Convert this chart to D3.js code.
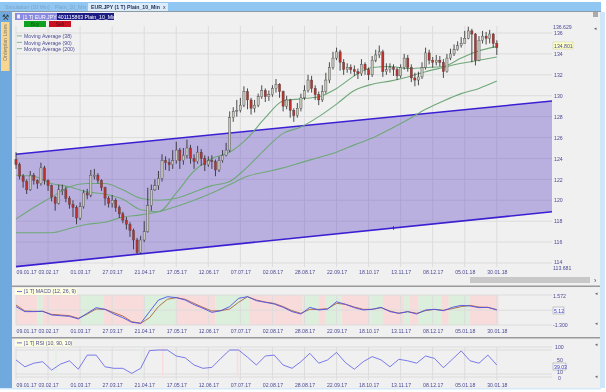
<!DOCTYPE html>
<html>
<head>
<meta charset="utf-8" />
<title>EUR.JPY</title>
<script src="https://cdnjs.cloudflare.com/ajax/libs/d3/7.8.5/d3.min.js"></script>
<style>
  html, body { margin: 0; padding: 0; background: #fff; overflow: hidden; }
  svg { display: block; font-family: "Liberation Sans", Arial, sans-serif; filter: blur(0.4px); }
  .domain { display: none; }
  .tick line { stroke: none; }
  .tick text, .lab { fill: #4b4b96; font-size: 5.2px; }
</style>
</head>
<body>
<svg width="606" height="392"></svg>
<script>
// one candle every 2 bars
var closes = [123.4,122.3,121.8,121.0,122.4,121.9,121.6,123.1,121.9,121.4,
  120.3,119.7,121.0,121.0,120.2,119.6,119.3,118.3,119.4,120.7,
  120.5,122.4,122.4,121.9,121.2,120.2,119.7,120.0,119.3,118.7,
  118.1,117.7,117.1,116.2,115.0,116.2,117.0,119.5,121.0,121.4,
  122.1,123.8,123.6,123.4,123.8,124.8,123.8,124.3,125.0,124.0,
  123.7,124.6,124.0,123.4,123.8,123.7,122.9,123.8,124.3,124.8,
  127.9,128.5,128.6,129.1,130.4,129.6,128.8,129.1,129.9,130.5,
  129.9,130.1,130.7,131.1,130.4,129.0,129.6,128.6,128.1,128.8,
  129.8,130.5,131.5,130.7,130.1,129.6,130.4,131.5,132.7,133.6,
  134.2,133.2,132.5,132.7,132.5,132.3,132.1,133.0,132.5,132.0,
  133.4,133.9,134.2,132.3,132.5,132.7,132.5,131.9,132.7,133.6,
  132.7,131.7,131.5,131.8,132.7,134.1,133.4,133.2,133.4,133.2,
  132.3,133.6,134.0,134.4,134.8,135.0,135.5,136.2,135.9,133.4,
  135.3,135.7,135.5,135.9,135.0,134.6];
var highs = [124.6,123.6,122.5,122.0,122.8,122.6,122.0,123.6,123.3,122.0,
  121.5,120.4,121.5,121.5,121.3,120.4,120.0,119.5,119.8,121.0,
  121.1,122.9,123.0,122.6,122.0,121.3,120.4,120.5,120.2,119.5,
  118.9,118.4,117.9,117.3,116.4,116.6,118.0,121.2,121.5,122.0,
  122.8,124.4,124.2,124.0,124.8,125.6,125.0,125.0,125.8,125.3,
  124.4,125.2,124.9,124.3,124.2,124.3,123.9,124.2,124.8,125.5,
  128.5,128.9,129.6,129.8,130.9,130.7,129.8,129.6,130.2,131.0,
  130.7,130.5,131.0,131.6,131.2,130.5,130.0,129.7,128.8,129.3,
  130.2,131.0,132.0,131.9,131.0,130.4,131.0,132.2,133.2,134.2,
  134.6,134.4,133.5,133.1,133.0,132.9,132.6,133.5,133.2,132.7,
  133.8,134.4,134.8,134.4,133.1,133.1,133.0,132.7,133.0,134.0,
  133.9,133.0,132.2,132.3,133.2,134.6,134.4,133.7,133.9,133.8,
  133.5,134.0,134.5,134.9,135.2,135.6,136.2,136.6,136.4,136.0,
  135.7,136.2,136.1,136.3,136.0,135.3];
var lows = [123.0,122.0,121.2,120.6,120.9,121.5,121.1,121.4,121.5,120.9,
  119.9,119.0,119.6,120.5,119.8,119.2,118.4,117.7,118.1,119.2,
  120.1,120.3,122.0,121.6,120.9,119.5,119.3,119.3,118.9,118.3,
  117.8,117.2,116.5,115.3,114.9,114.9,116.0,116.9,119.0,120.9,
  121.0,121.8,122.9,122.8,123.0,123.5,123.0,123.4,124.0,123.5,
  123.0,123.5,123.3,122.8,123.2,123.0,122.3,122.7,123.6,124.2,
  124.6,127.5,128.0,128.4,128.9,128.7,128.2,128.4,128.9,129.7,
  129.4,129.5,129.9,130.3,129.8,128.5,128.7,127.9,127.5,127.9,
  128.5,129.6,130.3,130.3,129.6,129.1,129.4,130.2,131.2,132.5,
  133.4,132.4,132.0,132.2,132.1,131.9,131.6,131.9,132.0,131.5,
  131.8,133.2,133.6,131.8,132.0,132.2,131.9,131.5,131.7,132.5,
  132.3,131.3,130.9,131.0,131.6,132.5,133.0,132.7,132.9,132.8,
  131.7,132.2,133.4,133.8,134.3,134.6,135.0,135.4,133.2,132.9,
  133.3,135.0,134.9,135.0,134.6,133.9];

// moving averages, one value every 10 bars
var ma38 = [122.4,122.3,121.6,121.3,120.8,120.6,120.1,119.1,118.9,120.7,122.8,124.0,124.6,125.95,127.9,129.5,129.7,129.9,130.7,131.9,132.7,132.8,132.6,132.7,132.8,133.6,134.3,134.7];
var ma90 = [118.2,119.3,120.3,121.3,121.6,121.6,121.0,120.2,120.0,120.2,120.8,121.4,121.8,123.2,124.9,126.4,127.0,128.0,129.2,130.5,131.1,131.4,131.8,132.3,132.7,133.1,133.4,133.7];
var ma200 = [116.9,116.9,116.9,117.3,117.7,117.9,118.4,118.6,118.9,119.4,120.0,120.7,121.5,122.3,122.7,123.1,123.6,124.1,124.6,125.3,125.95,126.8,127.7,128.7,129.5,130.2,130.7,131.4];

// channel ends [bar, price]
var channelBars = [0, 301];
var channelTop = [124.4, 129.5];
var channelBottom = [113.65, 118.9];

// one value every 5 bars
var macdLine = [.46,-.02,-.02,.01,-.34,-.41,-.47,-.72,-.18,.36,.2,-.25,-.6,-1.04,-1.14,-.02,1.09,1.41,1.32,1.09,.65,.3,-.09,.07,.46,1.25,1.41,1.03,.87,.71,.39,-.02,-.25,.39,.14,.23,.93,.68,.36,.14,.2,.39,-.02,-.18,-.02,-.25,.14,.2,.07,.39,.58,.52,.36,.39,.14];
var signalLine = [.62,.04,.01,.01,-.28,-.34,-.41,-.66,-.25,.23,.2,-.12,-.44,-.98,-1.14,-.6,.46,1.16,1.32,1.16,.77,.39,.04,.07,.23,.87,1.41,1.09,.9,.77,.46,.07,-.18,.2,.2,.26,.77,.68,.42,.2,.2,.36,.04,-.18,-.02,-.18,.07,.2,.11,.27,.46,.58,.42,.39,.17];
var rsiLine = [57,34,46,51,23,43,54,26,73,73,34,29,29,12,29,88,90,90,70,64,40,29,32,62,90,90,66,40,70,73,40,29,51,79,46,57,82,48,26,51,68,57,34,59,54,46,70,62,31,59,87,54,46,73,40];

// macd background, alternating red / green, starts at red
var bandEdges = [0,12,15,36,49,72,90,112,131,161,170,174,183,199,206,218,221,226,239,243,255,271];
var rsiRedBars = [82, 124];
var rsiGreenBars = [22, 70];

var dateBars = [0,18,36,54,72,90,108,126,144,162,180,198,216,234,252,270];
var dateLabels = ["09.01.17","03.02.17","01.03.17","27.03.17","21.04.17","17.05.17","12.06.17","07.07.17","02.08.17","28.08.17","22.09.17","18.10.17","13.11.17","08.12.17","05.01.18","30.01.18"];
var priceTicks = [116,118,120,122,124,126,128,130,132,134,136];
var legendNames = ["Moving Average  (38)","Moving Average  (90)","Moving Average  (200)"];

var svg = d3.select("svg");
var x = d3.scaleLinear().domain([0, 301]).range([16, 552]);
var yPrice = d3.scaleLinear().domain([114, 136]).range([263, 33]);
var yMacd = d3.scaleLinear().domain([-1.3, 1.572]).range([325, 295]);
var yRsi = d3.scaleLinear().domain([0, 100]).range([377, 347]);

function rect(px, py, w, h, fill, parent) {
  return (parent || svg).append("rect").attr("x", px).attr("y", py).attr("width", w).attr("height", h).attr("fill", fill);
}
function label(px, py, txt, fill, size, anchor) {
  return svg.append("text").attr("class", "lab").attr("x", px).attr("y", py).text(txt)
    .style("fill", fill || null).style("font-size", size ? size + "px" : null).attr("text-anchor", anchor || "start");
}

// window chrome
rect(0, 0, 606, 392, "#ffffff");
rect(0, 2, 601, 9, "#8fc6f2");
rect(0, 11, 601, 1, "#8c99a6");
rect(0, 12, 12, 376, "#6fa9dd");
rect(12, 12, 588, 376, "#f0f0f0");
rect(600, 12, 5, 376, "#cfe6f8");
rect(0, 388, 601, 1.5, "#d5e9f9");
rect(88, 3, 80, 8, "#dcebf8");
label(5, 9, "Simulation (10 Min)", "#7fa3c4", 5.2);
label(55, 9, "Plain_10_Min", "#7fa3c4", 5.2);
label(91, 9, "EUR.JPY (1 T)", "#20305a", 5.2).style("font-weight", "bold");
label(127, 9, "Plain_10_Min", "#20305a", 5.2).style("font-weight", "bold");
label(163, 9, "x", "#20305a", 5.2);
rect(1, 22, 8.5, 49, "#f6d690");
svg.append("text").attr("transform", "translate(7,61) rotate(-90)").attr("class", "lab").style("fill", "#7d7a7a").text("Orderplan Lines");
label(1.5, 20, "\u2692", "#333", 8);

// price panel grid
function grid(top, bottom) {
  svg.append("g").selectAll("line").data(dateBars).join("line")
    .attr("x1", d => x(d)).attr("x2", d => x(d)).attr("y1", top).attr("y2", bottom)
    .attr("stroke", "#dcdcdc").attr("stroke-width", 1);
}
grid(26, 267);
svg.append("g").selectAll("line").data(priceTicks.concat([114])).join("line")
  .attr("x1", 16).attr("x2", 552).attr("y1", d => yPrice(d)).attr("y2", d => yPrice(d))
  .attr("stroke", "#dcdcdc").attr("stroke-width", 1);

// channel
var channel = d3.area().x((d, i) => x(channelBars[i])).y0((d, i) => yPrice(channelBottom[i])).y1((d, i) => yPrice(channelTop[i]));
svg.append("path").attr("d", channel(channelBars)).attr("fill", "#6a4fc8").attr("fill-opacity", .4);
[channelTop, channelBottom].forEach(s => {
  svg.append("path").attr("d", d3.line().x((d, i) => x(channelBars[i])).y(d => yPrice(d))(s))
    .attr("fill", "none").attr("stroke", "#3a20d2").attr("stroke-width", 1.6);
});
// small marker on the lower channel line
svg.append("line").attr("x1", x(212)).attr("x2", x(212))
  .attr("y1", yPrice(118.9 - 5.25 * (301 - 212) / 301) - 2).attr("y2", yPrice(118.9 - 5.25 * (301 - 212) / 301) + 2)
  .attr("stroke", "#3a20d2").attr("stroke-width", .8);

// moving averages
var maLine = d3.line().x((d, i) => x(i * 10)).y(d => yPrice(d)).curve(d3.curveMonotoneX);
[ma200, ma90, ma38].forEach(s => {
  svg.append("path").attr("d", maLine(s)).attr("fill", "none").attr("stroke", "#6fa878").attr("stroke-width", 1.1);
});

// candles
var candles = svg.append("g").selectAll("g").data(closes).join("g");
candles.append("line")
  .attr("x1", (d, i) => x(i * 2)).attr("x2", (d, i) => x(i * 2))
  .attr("y1", (d, i) => yPrice(highs[i])).attr("y2", (d, i) => yPrice(lows[i]))
  .attr("stroke", "#222").attr("stroke-width", .8);
candles.append("rect")
  .attr("x", (d, i) => x(i * 2) - 1.1).attr("width", 2.2)
  .attr("y", (d, i) => yPrice(Math.max(d, i ? closes[i - 1] : d + .5)))
  .attr("height", (d, i) => Math.max(1, Math.abs(yPrice(d) - yPrice(i ? closes[i - 1] : d + .5))))
  .attr("fill", (d, i) => d >= (i ? closes[i - 1] : d + .5) ? "#c6c6bc" : "#c0302a")
  .attr("stroke", "#444").attr("stroke-width", .4);

// axes
function dateAxis(py) {
  var g = svg.append("g").attr("transform", "translate(0," + py + ")")
    .call(d3.axisBottom(x).tickValues(dateBars).tickFormat((d, i) => dateLabels[i]).tickSize(0).tickPadding(2));
  g.selectAll("text").filter((d, i) => i == 0).attr("text-anchor", "start");
}
dateAxis(268);
svg.append("g").attr("transform", "translate(552,0)")
  .call(d3.axisRight(yPrice).tickValues(priceTicks).tickFormat(d3.format("d")).tickSize(0).tickPadding(2));
label(554, 263.8, "114");
label(553, 270, "113.681");
label(553, 29, "136.629");
rect(553, 42, 20, 7, "#ffffc8").attr("stroke", "#cccc99").attr("stroke-width", .5);
label(554, 47.5, "134.801");

// title and legend
rect(15, 13, 99, 7, "#1c1c86");
rect(15, 13, 42, 7, "#8a8ae0");
rect(17, 14.5, 3, 4, "#eeeeee");
label(23, 18.5, "[1 T] EUR.JPY   401115863 Plain_10_Min", "#ffffff");
rect(24, 21, 22, 6, "#10a020");
rect(49, 21, 22, 6, "#c81020");
label(35, 26, "Buy", "#0b5a12", 5, "middle");
label(60, 26, "Sell", "#5a0b12", 5, "middle");
legendNames.forEach((n, i) => {
  rect(17, 35.5 + i * 6.4, 5, .8, "#6fa878");
  label(24, 38.3 + i * 6.4, n);
});

// scrollbar under price panel
rect(470, 277, 120, 6, "#c8c8c8");
label(594, 283, "\u203A", "#444", 7);
rect(593, 12, 5, 5, "#aaaaaa");
label(594, 30, "\u25C2", "#666", 5);

// macd panel
rect(12, 285.5, 588, 1.5, "#9a9a9a");
bandEdges.slice(0, -1).forEach((b, i) => {
  rect(x(b), 295, x(bandEdges[i + 1]) - x(b), 30, i % 2 ? "#dcefdc" : "#f8dcdc");
});
grid(295, 325);
[-1.3, 0.12, 1.572].forEach(v => {
  svg.append("line").attr("x1", 16).attr("x2", 552).attr("y1", yMacd(v)).attr("y2", yMacd(v)).attr("stroke", "#dcdcdc");
});
rect(15, 288, 62, 7, "#fdfde0");
rect(17, 291, 5, .8, "#4d50e8");
label(24, 293.2, "[1 T] MACD  (12, 26, 9)");
var stepLine = y => d3.line().x((d, i) => x(i * 5)).y(d => y(d));
svg.append("path").attr("d", stepLine(yMacd)(signalLine)).attr("fill", "none").attr("stroke", "#a8633c").attr("stroke-width", .9);
svg.append("path").attr("d", stepLine(yMacd)(macdLine)).attr("fill", "none").attr("stroke", "#4d50e8").attr("stroke-width", .9);
dateAxis(327);
label(553, 297.5, "1.572");
label(553, 327, "-1.300");
rect(553, 307, 11, 7, "#f6f6ff").attr("stroke", "#999").attr("stroke-width", .5);
label(554, 312.5, "5.12", "#3a3ad0");

// rsi panel
rect(12, 337, 588, 1.5, "#9a9a9a");
grid(347, 380);
[0, 10, 90, 100].forEach(v => {
  svg.append("line").attr("x1", 16).attr("x2", 552).attr("y1", yRsi(v)).attr("y2", yRsi(v)).attr("stroke", "#dcdcdc");
});
rsiRedBars.forEach(b => rect(x(b), 347, 1.5, 30, "#f9dede"));
rsiGreenBars.forEach(b => rect(x(b), 347, 1.5, 30, "#e0f2e0"));
rect(15, 339.5, 57, 7, "#fdfde0");
rect(17, 342.5, 5, .8, "#4d50e8");
label(24, 344.7, "[1 T] RSI  (10, 90, 10)");
svg.append("path").attr("d", stepLine(yRsi)(rsiLine)).attr("fill", "none").attr("stroke", "#5a5ce8").attr("stroke-width", .8);
dateAxis(381);
label(555, 348.5, "100");
label(557, 362, "50");
rect(553, 363, 13, 7, "#f4f4f4").attr("stroke", "#999").attr("stroke-width", .5);
label(554, 368.5, "39.03", "#3a3ad0");
label(557, 374.2, "10");
label(558, 379.6, "0");

// panel corner arrows
[295, 325, 346, 378].forEach(py => label(595, py, "\u25C2", "#666", 5));
</script>
</body>
</html>
